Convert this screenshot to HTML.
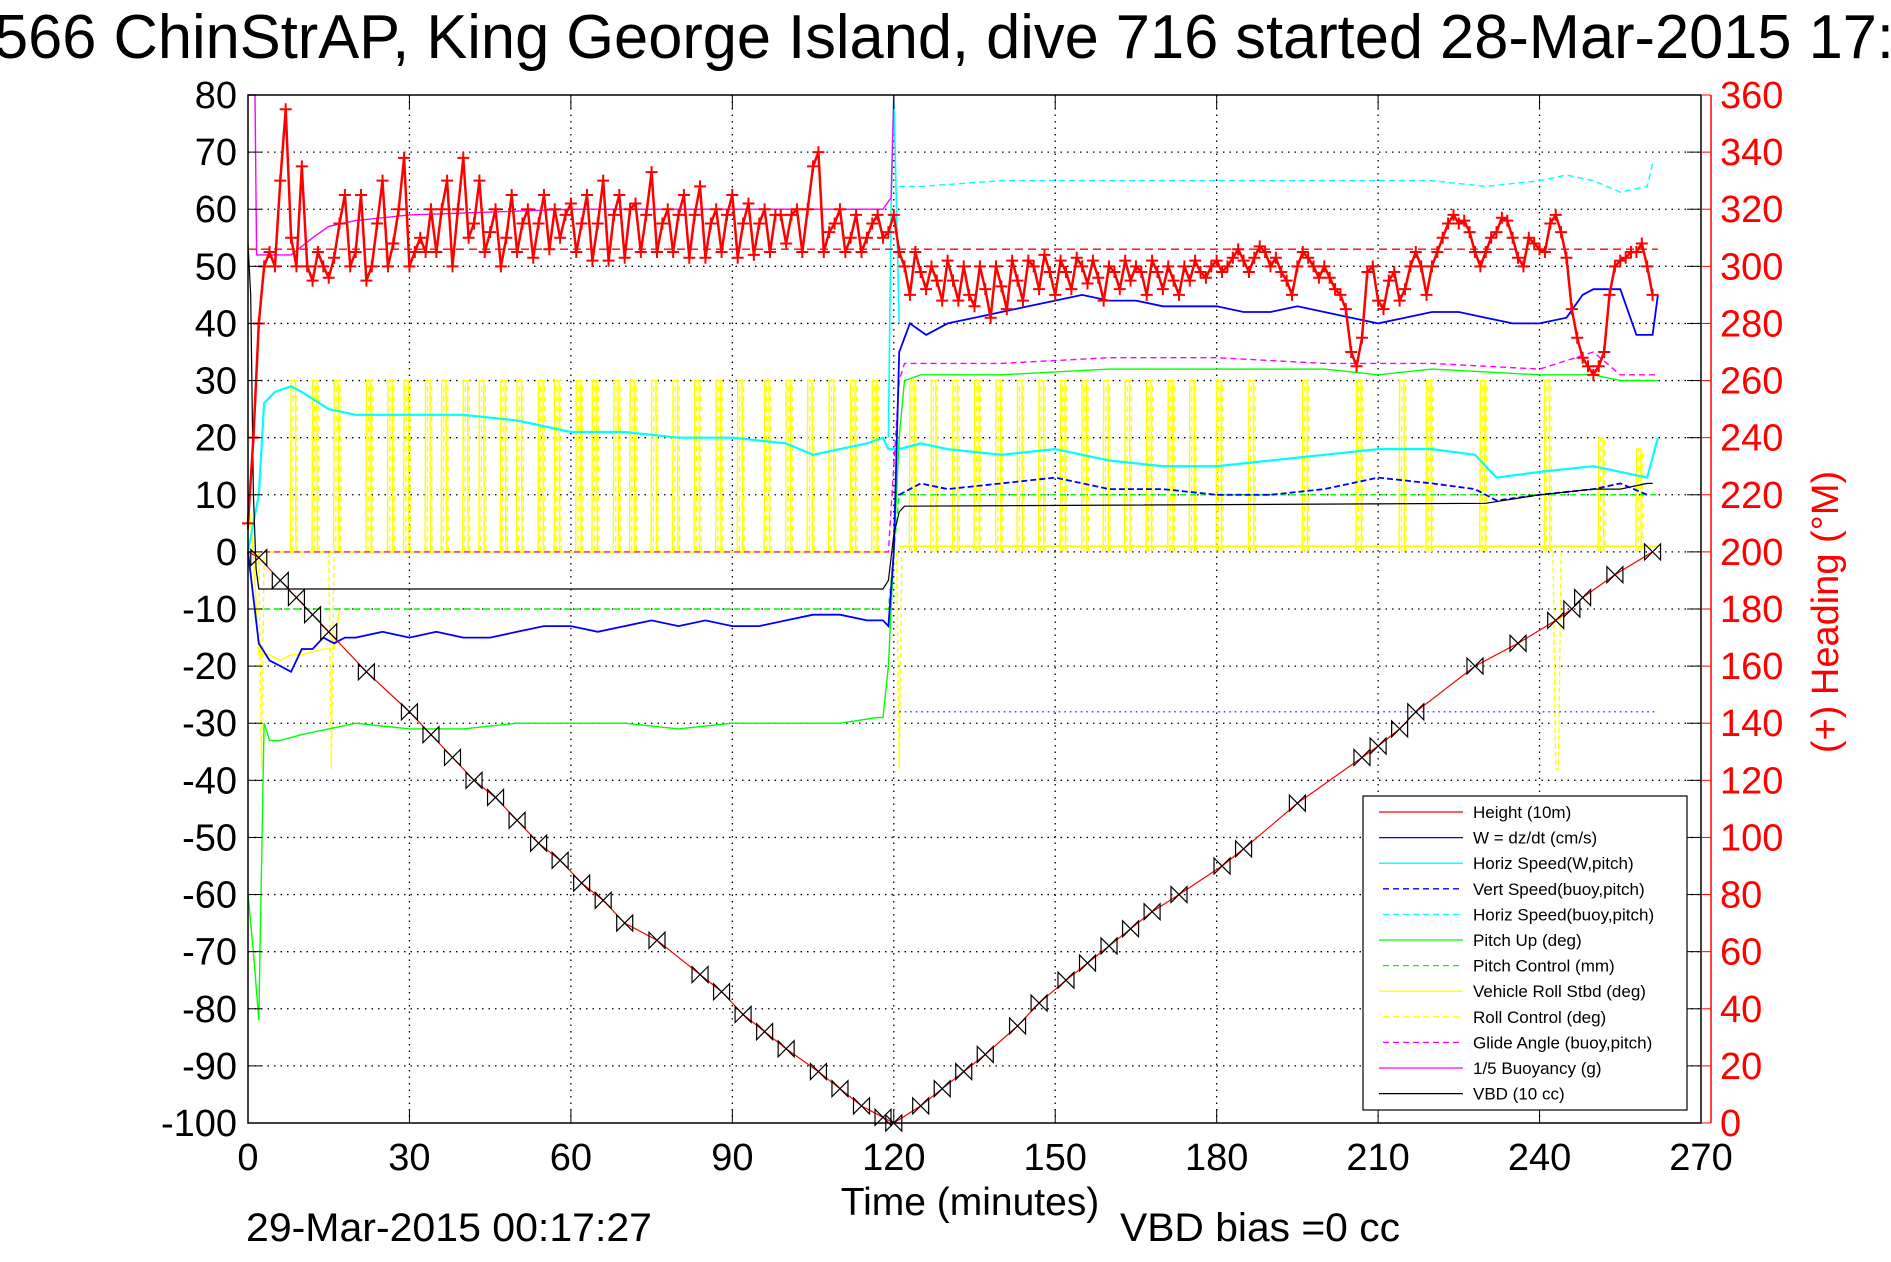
<!DOCTYPE html>
<html><head><meta charset="utf-8">
<style>
html,body{margin:0;padding:0;background:#fff;overflow:hidden}
svg{display:block;font-family:"Liberation Sans",Arial,sans-serif}
</style></head>
<body>
<svg id="chart" width="1891" height="1262" viewBox="0 0 1891 1262" xmlns="http://www.w3.org/2000/svg">
<rect x="0" y="0" width="1891" height="1262" fill="#fff"/>
<text x="-6" y="58" font-size="62" textLength="1900" lengthAdjust="spacingAndGlyphs">566 ChinStrAP, King George Island, dive 716 started 28-Mar-2015 17:</text>
<g id="grid"></g>
<g id="series"></g>
<g id="axes"></g>
<g id="legend"></g>
<text x="970" y="1215" font-size="39" text-anchor="middle">Time (minutes)</text>
<text x="246" y="1241" font-size="40" textLength="406" lengthAdjust="spacingAndGlyphs">29-Mar-2015 00:17:27</text>
<text x="1120" y="1241" font-size="40" textLength="280" lengthAdjust="spacingAndGlyphs">VBD bias =0 cc</text>
<text transform="translate(1838,612) rotate(-90)" font-size="38" fill="#ff0000" text-anchor="middle">(+) Heading (°M)</text>
</svg>
<script>
// ---- data ----
const xTicks=[0,30,60,90,120,150,180,210,240,270];
const yTicks=[-100,-90,-80,-70,-60,-50,-40,-30,-20,-10,0,10,20,30,40,50,60,70,80];
const hTicks=[0,20,40,60,80,100,120,140,160,180,200,220,240,260,280,300,320,340,360];

const markerT=[2,6,9,12,15,22,30,34,38,42,46,50,54,58,62,66,70,76,84,88,92,96,100,106,110,114,118,120,125,129,133,137,143,147,152,156,160,164,168,173,181,185,195,207,210,214,217,228,236,243,246,248,254,261];
const markerV=[-1,-5,-8,-11,-14,-21,-28,-32,-36,-40,-43,-47,-51,-54,-58,-61,-65,-68,-74,-77,-81,-84,-87,-91,-94,-97,-99,-100,-97,-94,-91,-88,-83,-79,-75,-72,-69,-66,-63,-60,-55,-52,-44,-36,-34,-31,-28,-20,-16,-12,-10,-8,-4,0];
const heightT=[0].concat(markerT);
const heightV=[0].concat(markerV);

const wT=[0,1,2,4,6,8,10,12,14,16,18,20,25,30,35,40,45,50,55,60,65,70,75,80,85,90,95,100,105,110,115,118,119,120,121,123,126,130,135,140,145,150,155,160,165,170,175,180,185,190,195,200,205,210,215,220,225,230,235,240,245,248,250,255,258,261,262];
const wV=[0,-8,-16,-19,-20,-21,-17,-17,-15,-16,-15,-15,-14,-15,-14,-15,-15,-14,-13,-13,-14,-13,-12,-13,-12,-13,-13,-12,-11,-11,-12,-12,-13,0,35,40,38,40,41,42,43,44,45,44,44,43,43,43,42,42,43,42,41,40,41,42,42,41,40,40,41,45,46,46,38,38,45];
const vsT=[121,125,130,140,150,160,170,180,190,200,210,220,228,232,240,250,255,260];
const vsV=[10,12,11,12,13,11,11,10,10,11,13,12,11,9,10,11,12,10];

const hsT=[0,2,3,5,8,10,15,20,30,40,50,60,70,80,90,100,105,110,115,118,119,121,125,130,140,150,160,170,180,190,200,210,220,228,232,240,250,255,260,262];
const hsV=[0,10,26,28,29,28,25,24,24,24,23,21,21,20,20,19,17,18,19,20,18,18,19,18,17,18,16,15,15,16,17,18,18,17,13,14,15,14,13,20];
const hsbT=[121,125,140,160,180,200,220,230,240,245,250,255,260,261];
const hsbV=[64,64,65,65,65,65,65,64,65,66,65,63,64,68];

const pitchT=[0,1,2,3,4,6,10,15,20,30,40,50,60,70,80,90,100,110,117,118,119,120,121,122,125,140,160,180,200,210,220,240,250,255,260,262];
const pitchV=[-60,-70,-82,-30,-33,-33,-32,-31,-30,-31,-31,-30,-30,-30,-31,-30,-30,-30,-29,-29,-20,0,20,30,31,31,32,32,32,31,32,31,31,30,30,30];
const pcT=[3,119,120,121,262];
const pcV=[-10,-10,0,10,10];

const rollT=[8,12,16,22,26,29,33,36,40,43,47,50,54,57,61,64,68,71,75,79,83,87,91,96,100,104,108,112,116,123,127,131,135,139,143,147,151,155,159,163,167,171,175,180,186,196,206,214,219,229,241,251,258];
const rollAmp=[30,30,30,30,30,30,30,30,30,30,30,30,30,30,30,30,30,30,30,30,30,30,30,30,30,30,30,30,30,30,30,30,30,30,30,30,30,30,30,30,30,30,30,30,30,30,30,30,30,30,30,20,18];

const glideT=[3,119,121,122,140,160,180,200,210,220,240,250,255,260,262];
const glideV=[0,0,30,33,33,34,34,33,33,33,32,35,31,31,31];

const buoyT=[0,1.3,1.6,8,12,15,20,30,45,60,90,118,119.5,120];
const buoyV=[80,80,52,52,55,57,58,59,59.5,60,60,60,62,80];

const vbdT=[0,0.5,1,1.5,2,118,119,120,121,122,230,240,250,255,260,261];
const vbdV=[54,45,10,-3,-6.5,-6.5,-5,3,7,8,8.5,10,11,11,12,12];

const headV=[304,296,210,240,280,300,305,300,330,355,310,300,335,300,295,305,300,296,303,315,325,300,305,325,295,300,315,330,300,308,320,338,300,305,310,305,320,305,320,330,300,320,338,310,315,330,305,312,320,300,310,325,305,315,320,303,315,325,306,320,310,318,322,305,315,325,302,315,330,302,318,325,303,320,322,305,318,333,305,315,320,305,318,325,303,318,328,303,315,320,305,318,325,303,315,322,304,315,320,305,318,318,308,318,320,305,320,335,340,305,312,315,320,305,310,318,305,310,315,318,310,312,318,305,300,290,305,298,292,300,295,288,302,295,288,300,290,286,300,292,282,300,293,285,302,295,288,302,300,292,304,298,290,302,298,292,303,300,294,302,296,288,300,298,292,302,295,300,298,290,302,298,292,300,295,290,300,295,302,298,296,300,302,298,300,303,306,302,298,303,307,305,300,303,298,295,290,300,305,303,300,296,300,296,292,290,285,270,265,275,298,300,288,285,295,298,288,292,300,305,300,290,300,305,310,315,318,315,316,312,305,300,305,310,312,317,316,310,303,300,310,308,306,305,315,318,312,303,285,275,268,265,262,265,270,290,300,302,303,305,305,308,300,290];
const headStart=-2;
const desiredHeading=306;

// ---- geometry ----
const L=248,R=1701,T=95,B=1123;
const X=t=>L+t*(R-L)/270;
const Y=v=>B-(v+100)*(B-T)/180;
const YH=h=>B-h*(B-T)/360;
const NS='http://www.w3.org/2000/svg';
const mk=(tag,attrs,parent)=>{const e=document.createElementNS(NS,tag);for(const k in attrs)e.setAttribute(k,attrs[k]);parent.appendChild(e);return e;};
const grid=document.getElementById('grid'),ser=document.getElementById('series'),axes=document.getElementById('axes'),leg=document.getElementById('legend');

xTicks.forEach(t=>{if(t>0&&t<270){const l=mk('line',{x1:X(t),x2:X(t),y1:T,y2:B,stroke:'#000','stroke-width':1.3,'stroke-dasharray':'1.5 5'},grid);

}});
yTicks.forEach(v=>{if(v>-100&&v<80){const l=mk('line',{x1:L,x2:R,y1:Y(v),y2:Y(v),stroke:'#000','stroke-width':1.3,'stroke-dasharray':'1.5 5'},grid);

}});

function line(ts,vs,color,name,opts={}){
  const yf=opts.yf||Y;
  const pts=ts.map((t,i)=>X(t).toFixed(1)+','+yf(vs[i]).toFixed(1)).join(' ');
  const p=mk('polyline',{points:pts,fill:'none',stroke:color,'stroke-width':opts.w||1.4},ser);
  if(opts.dash)p.setAttribute('stroke-dasharray',opts.dash);
  
  
  return p;
}
rollT.forEach((t,i)=>{
  line([t-0.1,t,t+0.8,t+0.9],[0,rollAmp[i],rollAmp[i],0],'#ffff00','roll-pulse',{w:1.4});
  line([t+0.3,t+0.4,t+1.1,t+1.2],[0,rollAmp[i],rollAmp[i],0],'#ffff00','roll-control-pulse',{w:1.3,dash:'6 4'});
});
line([3,119],[0,0],'#ffff00','vehicle-roll-descent',{w:2});
line([121,262],[1,1],'#ffff00','vehicle-roll-ascent',{w:2});
line([0,1,2,4,6,8,10,14,16,17],[10,0,-18,-18,-19,-18,-18,-17,-17,-10],'#ffff00','roll-early');
line([242.5,243,243.5,244],[0,-38,-38,0],'#ffff00','roll-spike',{dash:'5 3'});
line([120.5,121,121.5],[0,-38,0],'#ffff00','roll-spike-120',{dash:'5 3'});
line([2,2.5,3],[0,-38,0],'#ffff00','roll-spike-2',{dash:'5 3'});
line([15,15.5,16],[0,-38,0],'#ffff00','roll-spike-15',{dash:'5 3'});

line([120,262],[-28,-28],'#0000ff','vert-speed-ref',{w:1.2,dash:'1.5 4'});
line(hsbT,hsbV,'#00ffff','horiz-speed-buoy',{dash:'6 4'});
line(glideT,glideV,'#ff00ff','glide-angle',{dash:'6 4'});
line(pcT,pcV,'#00ff00','pitch-control',{dash:'6 4'});
line(pitchT,pitchV,'#00ff00','pitch-up');
line(hsT,hsV,'#00ffff','horiz-speed',{w:2.2});
line([119,119.5,120,121],[20,60,80,40],'#00ffff','horiz-speed-spike',{w:1.6});
line(vsT,vsV,'#0000ff','vert-speed-buoy',{w:1.8,dash:'6 3'});
line(wT,wV,'#0000ff','w-dzdt',{w:1.8});
line(buoyT,buoyV,'#ff00ff','buoyancy');
line(vbdT,vbdV,'#000000','vbd',{w:1.2});

line([0,262],[desiredHeading,desiredHeading],'#ff0000','desired-heading',{yf:YH,dash:'8 5',w:1.3});
const hT=headV.map((v,i)=>headStart+i);
for(let i=0;i<headV.length;i++){if(hT[i]<0)continue;
  const x=X(hT[i]),y=YH(headV[i]);
  const g=mk('path',{d:`M${x-6},${y}H${x+6}M${x},${y-6}V${y+6}`,stroke:'#ff0000','stroke-width':2},ser);
  
  
}
line(hT.filter(t=>t>=0),headV.filter((v,i)=>hT[i]>=0),'#ff0000','heading-trace',{yf:YH,w:2.5});

line(heightT,heightV,'#ff0000','height-line',{w:1.2});
markerT.forEach((t,i)=>{
  const x=X(t),y=Y(markerV[i]);
  const m=mk('path',{d:`M${x-8},${y-8}L${x+8},${y+8}L${x+8},${y-8}L${x-8},${y+8}Z`,fill:'none',stroke:'#000','stroke-width':1.2},ser);
  
  
});

mk('rect',{x:L,y:T,width:R-L,height:B-T,fill:'none',stroke:'#000','stroke-width':1.5},axes);
mk('line',{x1:1711,x2:1711,y1:T,y2:B,stroke:'#ff0000','stroke-width':1.5},axes);
xTicks.forEach(t=>{
  mk('line',{x1:X(t),x2:X(t),y1:B,y2:B-14,stroke:'#000'},axes);
  mk('line',{x1:X(t),x2:X(t),y1:T,y2:T+14,stroke:'#000'},axes);
  const tx=mk('text',{x:X(t),y:1170,'font-size':38,'text-anchor':'middle'},axes);tx.textContent=t;
  
  
});
yTicks.forEach(v=>{
  mk('line',{x1:L,x2:L+14,y1:Y(v),y2:Y(v),stroke:'#000'},axes);
  mk('line',{x1:R,x2:R-14,y1:Y(v),y2:Y(v),stroke:'#000'},axes);
  const tx=mk('text',{x:237,y:Y(v)+13,'font-size':38,'text-anchor':'end'},axes);tx.textContent=v;
  
  
});
hTicks.forEach(h=>{
  mk('line',{x1:1701,x2:1711,y1:YH(h),y2:YH(h),stroke:'#ff0000'},axes);
  const tx=mk('text',{x:1720,y:YH(h)+13,'font-size':38,fill:'#ff0000'},axes);tx.textContent=h;
  
  
});

const legLabels=['Height (10m)','W = dz/dt (cm/s)','Horiz Speed(W,pitch)','Vert Speed(buoy,pitch)','Horiz Speed(buoy,pitch)','Pitch Up (deg)','Pitch Control (mm)','Vehicle Roll Stbd (deg)','Roll Control (deg)','Glide Angle (buoy,pitch)','1/5 Buoyancy (g)','VBD (10 cc)'];
const legColors=['#ff0000','#0000ff','#00ffff','#0000ff','#00ffff','#00ff00','#00ff00','#ffff00','#ffff00','#ff00ff','#ff00ff','#000000'];
const legDash=[0,0,0,1,1,0,1,0,1,1,0,0];
const lb=mk('rect',{x:1363,y:796,width:324,height:314,fill:'#fff',stroke:'#000','stroke-width':1.2},leg);


legLabels.forEach((s,i)=>{
  const y=812+i*25.6;
  const ln=mk('line',{x1:legDash[i]?1383:1379,x2:1463,y1:y,y2:y,stroke:legColors[i],'stroke-width':1.3},leg);
  if(legDash[i])ln.setAttribute('stroke-dasharray','6 4');
  const tx=mk('text',{x:1473,y:y+6,'font-size':17},leg);tx.textContent=s;
  
  
});
</script>
</body></html>
